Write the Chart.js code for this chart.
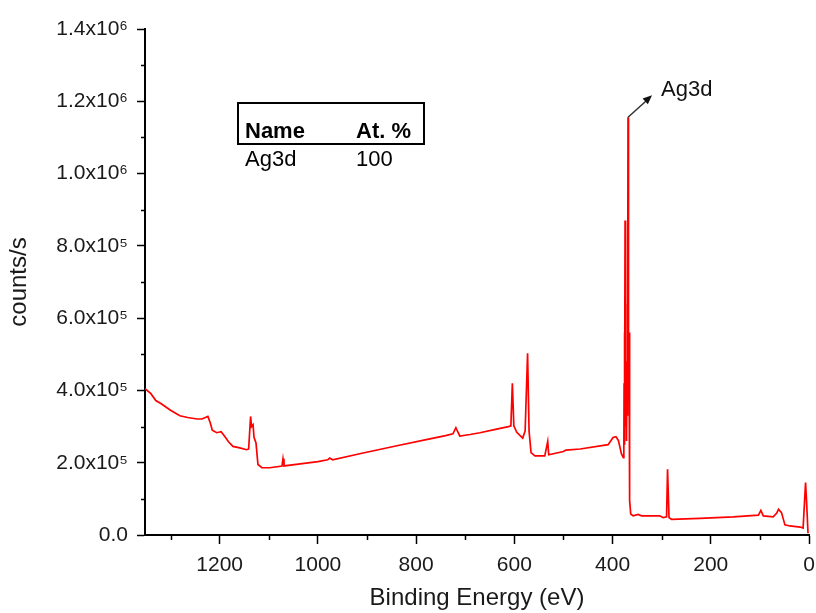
<!DOCTYPE html>
<html>
<head>
<meta charset="utf-8">
<script src="https://cdn.jsdelivr.net/npm/chart.js@4.4.1/dist/chart.umd.min.js"></script>
<style>
  html, body { margin: 0; padding: 0; background: #fff; }
  #wrap { width: 816px; height: 613px; }
</style>
</head>
<body>
<div id="wrap"><canvas id="xps" width="816" height="613"></canvas></div>
<script>
  // XPS survey spectrum, binding energy (eV) vs counts/s
  var energy = [
    1352, 1340, 1330, 1319, 1300, 1281, 1265, 1246, 1236, 1228, 1224, 1219, 1215, 1206,
    1197, 1191, 1182, 1173, 1159, 1145, 1141, 1137, 1135, 1132, 1130, 1126, 1122, 1114,
    1098, 1073, 1071, 1069, 1040, 1000, 980, 976, 970, 908, 839, 772, 740, 725, 719, 715,
    711, 690, 670, 636, 612, 607, 604, 601, 595, 583, 578, 573, 570, 566, 558, 538, 532,
    530, 500, 495, 466, 409, 399, 393, 388, 382, 378,
    377, 376.5, 376, 375.5, 375, 374.5, 374, 373.5, 373, 372.5, 372, 371.5, 371, 370.5, 370,
    369.5, 369, 368.5, 368, 367.5, 367, 366.5, 366, 365.5, 365, 364.5, 363,
    358, 348, 341, 304, 297, 290, 288, 285, 280, 222, 154, 103,
    98, 93, 73, 66, 62, 56, 49, 39, 18, 12, 7, 5, 2
  ];
  var counts = [
    405000, 391000, 372000, 363000, 345000, 330000, 325000, 321000, 321000, 326000, 328000, 310000, 290000, 283000,
    286000, 275000, 258000, 245000, 241000, 236000, 238000, 328000, 300000, 305000, 270000, 255000, 195000, 186000,
    186000, 191000, 211000, 191000, 196000, 203000, 208000, 213000, 208000, 227000, 247000, 266000, 275000, 280000, 297000, 285000,
    274000, 278000, 283000, 293000, 300000, 302000, 420000, 302000, 284000, 268000, 288000, 503000, 288000, 228000, 219000, 219000, 259000,
    222000, 231000, 235000, 238000, 250000, 270000, 272000, 261000, 225000, 214000,
    230000, 420000, 250000, 560000, 330000, 870000, 380000, 650000, 300000, 480000, 260000, 420000, 280000, 450000, 330000,
    640000, 420000, 1156000, 520000, 820000, 380000, 560000, 260000, 380000, 160000, 95000, 58000,
    53000, 57000, 53000, 53000, 48000, 50000, 182000, 48000, 43500, 46000, 50000, 55000,
    68000, 53000, 50000, 60000, 71000, 62000, 28000, 25000, 22000, 19000, 145000, 94000, 5000
  ];

  var xMinor = [100, 300, 500, 700, 900, 1100, 1300];
  var yMinor = [100000, 300000, 500000, 700000, 900000, 1100000, 1300000];

  var peakLabel = 'Ag3d';
  var tableHead = ['Name', 'At. %'];
  var tableRow = ['Ag3d', '100'];

  var FONT = '"Liberation Sans", Arial, Helvetica, sans-serif';
  var SUP = { 5: '\u2075', 6: '\u2076' };

  function sciLabel(v) {
    if (v === 0) {
      return '0.0';
    }
    var exp = Math.floor(Math.log10(v) + 1e-9);
    var m = v / Math.pow(10, exp);
    return m.toFixed(1) + 'x10' + SUP[exp];
  }

  var extras = {
    id: 'extras',
    afterDraw: function (chart) {
      var ctx = chart.ctx;
      var xs = chart.scales.x;
      var ys = chart.scales.y;
      var area = chart.chartArea;
      ctx.save();

      // minor ticks
      ctx.strokeStyle = '#000';
      ctx.lineWidth = 1.5;
      ctx.beginPath();
      xMinor.forEach(function (v) {
        var px = Math.round(xs.getPixelForValue(v)) + 0.5;
        ctx.moveTo(px, area.bottom);
        ctx.lineTo(px, area.bottom + 5);
      });
      yMinor.forEach(function (v) {
        var py = Math.round(ys.getPixelForValue(v)) + 0.5;
        ctx.moveTo(area.left, py);
        ctx.lineTo(area.left - 4, py);
      });
      ctx.stroke();

      // peak arrow + label
      var iMax = 0;
      counts.forEach(function (c, i) {
        if (c > counts[iMax]) iMax = i;
      });
      var px0 = xs.getPixelForValue(energy[iMax]);
      var py0 = ys.getPixelForValue(counts[iMax]);
      var tx = px0 + 24;
      var ty = py0 - 22;
      ctx.strokeStyle = '#333';
      ctx.fillStyle = '#111';
      ctx.lineWidth = 1.5;
      ctx.beginPath();
      ctx.moveTo(px0, py0);
      ctx.lineTo(tx - 4, ty + 4);
      ctx.stroke();
      var ang = Math.atan2(ty - py0, tx - px0);
      ctx.beginPath();
      ctx.moveTo(tx, ty);
      ctx.lineTo(tx - 10 * Math.cos(ang - 0.4), ty - 10 * Math.sin(ang - 0.4));
      ctx.lineTo(tx - 10 * Math.cos(ang + 0.4), ty - 10 * Math.sin(ang + 0.4));
      ctx.closePath();
      ctx.fill();
      ctx.font = '22px ' + FONT;
      ctx.textBaseline = 'alphabetic';
      ctx.textAlign = 'left';
      ctx.fillText(peakLabel, px0 + 33, py0 - 21);

      // quantification table
      var bx = area.left + 93;
      var by = area.top + 74;
      ctx.lineWidth = 2;
      ctx.strokeStyle = '#000';
      ctx.strokeRect(bx, by, 186, 41);
      ctx.fillStyle = '#000';
      ctx.font = 'bold 22px ' + FONT;
      ctx.fillText(tableHead[0], bx + 7, by + 35);
      ctx.fillText(tableHead[1], bx + 118, by + 35);
      ctx.font = '22px ' + FONT;
      ctx.fillText(tableRow[0], bx + 7, by + 63);
      ctx.fillText(tableRow[1], bx + 118, by + 63);

      ctx.restore();
    }
  };

  var points = energy.map(function (e, i) {
    return { x: e, y: counts[i] };
  });

  new Chart(document.getElementById('xps').getContext('2d'), {
    type: 'line',
    data: {
      datasets: [
        {
          data: points,
          borderColor: '#ff0000',
          borderWidth: 1.7,
          pointRadius: 0,
          tension: 0,
          fill: false
        }
      ]
    },
    options: {
      responsive: false,
      animation: false,
      layout: { padding: { top: 29, right: 7, left: 0, bottom: 0 } },
      plugins: {
        legend: { display: false },
        tooltip: { enabled: false }
      },
      scales: {
        x: {
          type: 'linear',
          reverse: true,
          min: 0,
          max: 1352,
          afterFit: function (s) {
            s.height = 78;
            s.paddingLeft = 0;
            s.paddingRight = 0;
          },
          border: { color: '#000', width: 2 },
          grid: { drawOnChartArea: false, color: '#000', tickLength: 9, tickWidth: 1.5 },
          ticks: {
            stepSize: 200,
            includeBounds: false,
            maxRotation: 0,
            padding: 9,
            color: '#1a1a1a',
            font: { family: FONT, size: 21 },
            callback: function (v) { return String(v); }
          },
          title: {
            display: true,
            text: 'Binding Energy (eV)',
            color: '#1a1a1a',
            font: { family: FONT, size: 24 },
            padding: { top: 0, bottom: 0 }
          }
        },
        y: {
          min: 0,
          max: 1400000,
          afterFit: function (s) { s.width = 145; },
          border: { color: '#000', width: 2 },
          grid: { drawOnChartArea: false, color: '#000', tickLength: 8, tickWidth: 1.5 },
          ticks: {
            stepSize: 200000,
            padding: 9,
            color: '#1a1a1a',
            font: { family: FONT, size: 21 },
            callback: function (v) { return sciLabel(v); }
          },
          title: {
            display: true,
            text: 'counts/s',
            color: '#1a1a1a',
            font: { family: FONT, size: 24 },
            padding: { top: 5, bottom: 0 }
          }
        }
      }
    },
    plugins: [extras]
  });
</script>
</body>
</html>
